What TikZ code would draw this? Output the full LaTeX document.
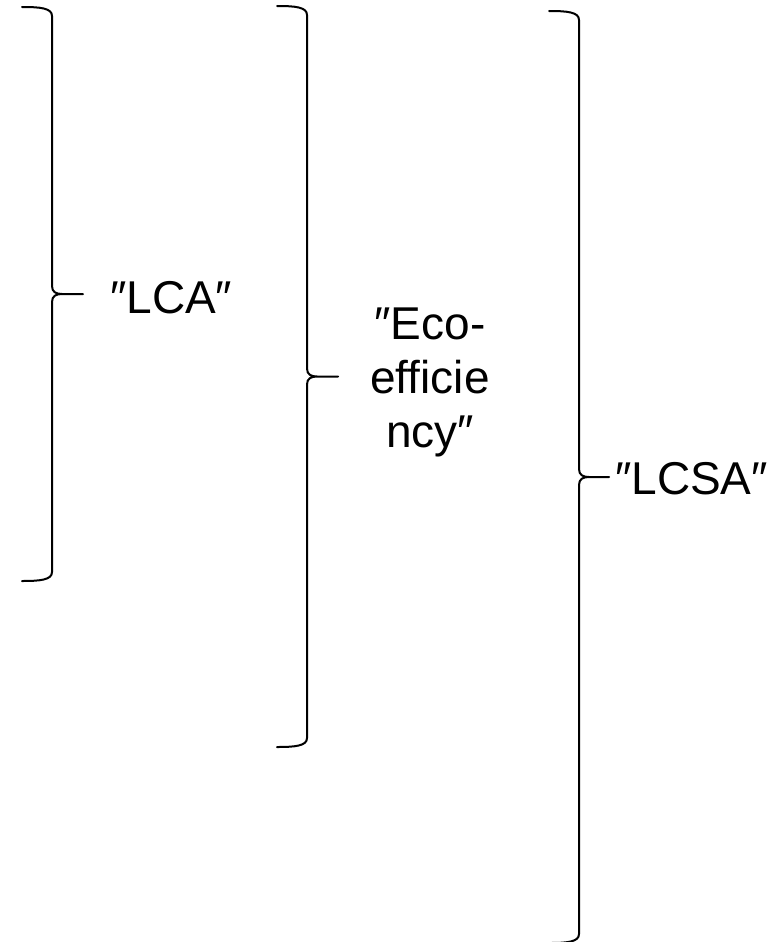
\documentclass[tikz,border=0pt]{standalone}
\usepackage{fontspec}
\setmainfont{Liberation Sans}
\usetikzlibrary{calc}

% Right-facing curly brace: #1 = x of the curled ends, #2 = x of the spine,
% #3 = top y, #4 = bottom y, #5 = x of the tip, #6 = name of the tip coordinate
\newcommand{\curlybrace}[6]{%
  \pgfmathsetmacro{\bmid}{(#3+#4)/2}%
  \draw[bracestyle]
    (#1,#3) .. controls (#1+18,#3) and (#2,#3+1) .. (#2,#3+9)
    -- (#2,\bmid-8) .. controls (#2,\bmid-2) and (#2+4,\bmid) .. (#2+10,\bmid)
    -- (#5,\bmid) coordinate (#6)
    (#2+10,\bmid) .. controls (#2+4,\bmid) and (#2,\bmid+2) .. (#2,\bmid+8)
    -- (#2,#4-9) .. controls (#2,#4-1) and (#1+18,#4) .. (#1,#4);%
}

\begin{document}
\begin{tikzpicture}[x=1pt,y=-1pt,
  bracestyle/.style={line width=2pt,line cap=round,black},
  lbl/.style={inner sep=0pt,font=\fontsize{46}{54}\selectfont}]
  \useasboundingbox (0,0) rectangle (781,942);

  \curlybrace{22}{52}{7}{581}{83}{tipA}
  \curlybrace{277}{307}{6}{747}{338}{tipB}
  \curlybrace{549}{579}{11}{943}{609}{tipC}

  \node[lbl,anchor=base west] (lca) at (110,313) {″LCA″};
  \node[lbl,align=center] (eco) at (430,382.5) {″Eco-\\efficie\\ncy″};
  \node[lbl,anchor=base west] (lcsa) at (615,494) {″LCSA″};
\end{tikzpicture}
\end{document}
